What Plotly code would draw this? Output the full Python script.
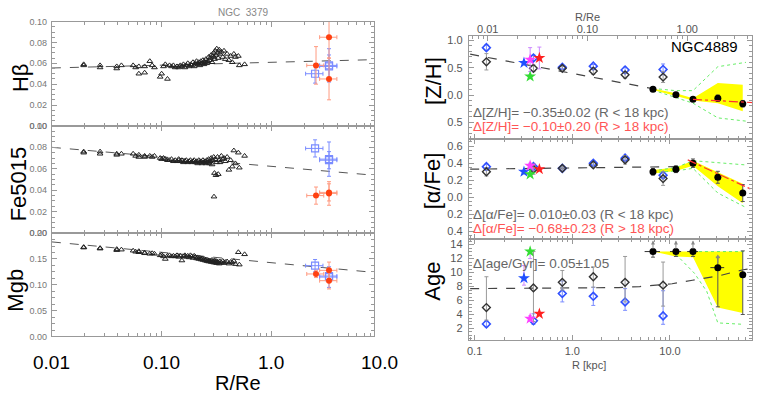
import math
import plotly.graph_objects as go

W, H = 761, 399

# ---------------- NGC 3379 : long-slit indices vs R/Re ----------------
slit_r = [0.0195, 0.0195, 0.0275, 0.0275, 0.039, 0.043, 0.039, 0.055, 0.058, 0.062,
          0.062, 0.070, 0.070, 0.078, 0.082, 0.086, 0.097, 0.100, 0.104, 0.108,
          0.113, 0.118, 0.123, 0.128, 0.133, 0.138, 0.143, 0.148, 0.153, 0.158,
          0.163, 0.168, 0.173, 0.178, 0.183, 0.188, 0.193, 0.198, 0.203, 0.208,
          0.213, 0.218, 0.223, 0.228, 0.233, 0.238, 0.243, 0.248, 0.253, 0.258,
          0.263, 0.268, 0.273, 0.278, 0.283, 0.288, 0.293, 0.298, 0.303, 0.300,
          0.308, 0.313, 0.318, 0.323, 0.328, 0.335, 0.340, 0.350, 0.360, 0.370,
          0.380, 0.395, 0.410, 0.425, 0.440, 0.455, 0.470, 0.500, 0.570, 0.510]
slit_hb = [0.059, 0.058, 0.058, 0.056, 0.057, 0.058, 0.055, 0.058, 0.056, 0.050,
           0.057, 0.051, 0.057, 0.062, 0.058, 0.056, 0.047, 0.050, 0.057, 0.059,
           0.045, 0.058, 0.057, 0.058, 0.056, 0.057, 0.056, 0.058, 0.057, 0.059,
           0.056, 0.058, 0.060, 0.057, 0.059, 0.058, 0.061, 0.057, 0.060, 0.062,
           0.059, 0.061, 0.058, 0.062, 0.060, 0.063, 0.059, 0.061, 0.064, 0.060,
           0.062, 0.066, 0.063, 0.065, 0.068, 0.061, 0.067, 0.070, 0.064, 0.066,
           0.072, 0.068, 0.074, 0.070, 0.065, 0.073, 0.069, 0.071, 0.066, 0.072,
           0.064, 0.069, 0.063, 0.067, 0.061, 0.069, 0.066, 0.067, 0.059, 0.058]
slit_fe = [0.075, 0.076, 0.076, 0.074, 0.074, 0.074, 0.073, 0.074, 0.072, 0.071,
           0.073, 0.072, 0.071, 0.072, 0.071, 0.072, 0.070, 0.069, 0.070, 0.069,
           0.068, 0.068, 0.069, 0.067, 0.068, 0.067, 0.069, 0.067, 0.068, 0.066,
           0.067, 0.068, 0.066, 0.067, 0.068, 0.066, 0.067, 0.068, 0.066, 0.067,
           0.065, 0.068, 0.066, 0.067, 0.065, 0.068, 0.066, 0.067, 0.065, 0.068,
           0.066, 0.069, 0.065, 0.067, 0.070, 0.064, 0.068, 0.071, 0.056, 0.034,
           0.069, 0.054, 0.066, 0.071, 0.055, 0.068, 0.066, 0.072, 0.069, 0.070,
           0.067, 0.071, 0.059, 0.068, 0.062, 0.077, 0.065, 0.075, 0.072, 0.061]
slit_mgb = [0.173, 0.172, 0.171, 0.170, 0.169, 0.168, 0.167, 0.166, 0.164, 0.165,
            0.163, 0.161, 0.162, 0.160, 0.161, 0.160, 0.157, 0.158, 0.155, 0.150,
            0.156, 0.157, 0.155, 0.156, 0.155, 0.157, 0.154, 0.156, 0.147, 0.155,
            0.157, 0.154, 0.156, 0.153, 0.157, 0.155, 0.152, 0.156, 0.154, 0.151,
            0.153, 0.150, 0.152, 0.149, 0.151, 0.148, 0.150, 0.147, 0.149, 0.146,
            0.148, 0.145, 0.147, 0.146, 0.144, 0.148, 0.145, 0.143, 0.147, 0.145,
            0.143, 0.146, 0.142, 0.145, 0.143, 0.141, 0.145, 0.143, 0.146, 0.142,
            0.144, 0.145, 0.141, 0.144, 0.143, 0.146, 0.140, 0.163, 0.159, 0.139]

# outer points (red filled / blue open)
red_r = [2.55, 3.35, 3.35]
red_rerr = [0.45, 0.6, 0.6]
blue_r = [2.5, 3.35, 3.35]
blue_rerr = [0.45, 0.6, 0.6]
red_hb, red_hb_err = [0.058, 0.085, 0.045], [0.018, 0.02, 0.02]
blue_hb, blue_hb_err = [0.050, 0.057, 0.058], [0.009, 0.011, 0.016]
red_fe, red_fe_err = [0.035, 0.037, 0.038], [0.008, 0.011, 0.008]
blue_fe, blue_fe_err = [0.079, 0.069, 0.068], [0.008, 0.016, 0.008]
red_mgb, red_mgb_err = [0.121, 0.128, 0.108], [0.007, 0.016, 0.016]
blue_mgb, blue_mgb_err = [0.137, 0.117, 0.115], [0.012, 0.012, 0.02]

# gradient fits (end points)
fit_r = [0.01, 8.6]
fit_hb = [0.0555, 0.0635]
fit_fe = [0.080, 0.054]
fit_mgb = [0.183, 0.124]

# ---------------- NGC 4889 : stellar populations vs R [kpc] ----------------
diam_r = [0.132, 0.40, 0.79, 1.64, 3.47, 8.5]
zh_k, zh_k_err = [0.61, 0.49, 0.49, 0.44, 0.37, 0.33], [0.15, 0.06, 0.04, 0.06, 0.06, 0.10]
zh_b, zh_b_err = [0.87, 0.68, 0.51, 0.53, 0.46, 0.47], [0.05, 0.05, 0.03, 0.03, 0.05, 0.10]
af_k, af_k_err = [0.30, 0.33, 0.34, 0.38, 0.44, 0.22], [0.05, 0.06, 0.02, 0.03, 0.05, 0.08]
af_b, af_b_err = [0.36, 0.36, 0.34, 0.40, 0.46, 0.26], [0.03, 0.03, 0.02, 0.02, 0.03, 0.03]
age_k = [5.0, 7.8, 8.6, 9.4, 8.6, 8.2]
age_k_up = [4.4, 5.2, 1.7, 1.4, 3.7, 3.3]
age_k_dn = [1.8, 4.8, 1.1, 1.5, 2.8, 3.0]
age_b = [2.65, 3.1, 7.0, 6.6, 5.8, 3.8]
age_b_up = [0.4, 1.0, 1.8, 1.3, 1.9, 3.6]
age_b_dn = [0.4, 0.5, 1.2, 1.3, 1.2, 1.2]

outer_r = [6.7, 11.5, 17.2, 30.9, 55.6]
zh_o, zh_o_err = [0.105, 0.005, -0.08, -0.06, -0.16], [0.04, 0.02, 0.03, 0.06, 0.06]
af_o, af_o_err = [0.30, 0.33, 0.40, 0.235, 0.05], [0.04, 0.04, 0.05, 0.07, 0.10]
age_o = [13.0, 13.0, 13.0, 10.7, 9.7]
age_o_up = [0.0, 0.0, 0.0, 1.5, 3.4]
age_o_dn = [0.8, 0.7, 0.7, 5.6, 5.7]
age_o_rerr = [1.2, 1.5, 2.2, 5.0, 0.0]

# literature stars: blue, magenta, green, red
star_r = [0.32, 0.37, 0.37, 0.46]
star_col = ["#1f4fff", "#ff40ff", "#33dd33", "#ff2020"]
star_zh = [0.59, 0.65, 0.34, 0.68]
star_zh_err = [0.03, 0.22, 0.03, 0.2]
star_af = [0.30, 0.37, 0.27, 0.33]
star_af_err = [0.02, 0.03, 0.02, 0.02]
star_age = [9.2, 3.4, 13.0, 4.1]
star_age_up = [1.8, 0.4, 0.0, 0.0]
star_age_dn = [1.0, 0.4, 1.0, 0.0]

# inner gradient fits (dashed) and outer fits (dash-dot)
zh_fit_r, zh_fit = [0.09, 7.0], [0.75, 0.11]
af_fit_r, af_fit = [0.09, 12.0], [0.33, 0.36]
age_fit_r = [0.09, 1.0, 3.0, 4.9, 10.5, 17.0, 31.0, 56.0, 70.0]
age_fit = [7.7, 7.75, 7.85, 8.0, 8.4, 8.9, 9.5, 10.4, 10.6]
zh_out_r, zh_out = [17.2, 72.0], [-0.08, -0.14]
af_out_r, af_out = [15.2, 72.0], [0.44, 0.08]

# yellow uncertainty envelopes (upper edge left->right, lower edge right->left)
band_r = [6.7, 11.5, 17.2, 30.9, 55.6, 55.6, 30.9, 17.2, 11.5, 6.7]
zh_band = [0.12, 0.03, -0.06, 0.22, 0.19, -0.30, -0.15, -0.10, -0.02, 0.09]
af_band = [0.32, 0.35, 0.43, 0.30, 0.16, -0.07, 0.13, 0.37, 0.31, 0.28]
age_band = [13.0, 13.0, 13.0, 13.0, 13.0, 4.2, 5.0, 12.2, 12.3, 13.0]

# green dotted envelopes
zh_gu_r, zh_gu = [6.7, 11.5, 17.2, 30.9, 60.0], [0.12, 0.08, 0.08, 0.52, 0.60]
zh_gl_r, zh_gl = [6.7, 11.5, 17.2, 30.9, 60.0], [0.09, -0.04, -0.15, -0.42, -0.48]
af_gu_r, af_gu = [6.7, 11.5, 17.2, 30.9, 60.0], [0.31, 0.35, 0.43, 0.41, 0.38]
af_gl_r, af_gl = [6.7, 11.5, 17.2, 30.9, 60.0], [0.29, 0.31, 0.34, 0.05, -0.12]
age_gu_r, age_gu = [17.2, 60.0], [13.0, 13.0]
age_gl_r = [11.5, 13.6, 17.8, 23.8, 28.7, 30.9, 55.6]
age_gl = [12.6, 11.6, 9.9, 7.3, 4.0, 2.8, 2.6]

RED = "#ff4010"
RED_L = "#ff9a80"
BLUE_L = "#7a8cff"
BLUE = "#3050ff"

fig = go.Figure()


def add(tr, xa, ya):
    tr.update(xaxis=xa, yaxis=ya, showlegend=False, hoverinfo="skip")
    fig.add_trace(tr)


# ---- left column ----
left = [("x", "y", slit_hb, fit_hb, red_hb, red_hb_err, blue_hb, blue_hb_err),
        ("x2", "y2", slit_fe, fit_fe, red_fe, red_fe_err, blue_fe, blue_fe_err),
        ("x3", "y3", slit_mgb, fit_mgb, red_mgb, red_mgb_err, blue_mgb, blue_mgb_err)]
for xa, ya, vals, fit, rv, re_, bv, be in left:
    add(go.Scatter(x=fit_r, y=fit, mode="lines", line=dict(color="#555", width=1, dash="dash")), xa, ya)
    add(go.Scatter(x=slit_r, y=vals, mode="markers",
                   marker=dict(symbol="triangle-up-open", size=5, color="#222", line=dict(width=1))), xa, ya)
    add(go.Scatter(x=blue_r, y=bv, mode="markers",
                   marker=dict(symbol="square-open", size=7, color=BLUE_L, line=dict(width=1.2)),
                   error_y=dict(type="data", array=be, color=BLUE_L, thickness=1, width=2),
                   error_x=dict(type="data", array=blue_rerr, color=BLUE_L, thickness=1, width=2)), xa, ya)
    add(go.Scatter(x=red_r, y=rv, mode="markers",
                   marker=dict(symbol="circle", size=6, color=RED),
                   error_y=dict(type="data", array=re_, color=RED_L, thickness=1, width=2),
                   error_x=dict(type="data", array=red_rerr, color=RED_L, thickness=1, width=2)), xa, ya)

# ---- right column ----
right = [("x4", "y4", zh_band, zh_gu_r, zh_gu, zh_gl_r, zh_gl, zh_fit_r, zh_fit,
          zh_k, zh_k_err, zh_k_err, zh_b, zh_b_err, zh_b_err, zh_o, zh_o_err, zh_o_err,
          star_zh, star_zh_err, star_zh_err),
         ("x5", "y5", af_band, af_gu_r, af_gu, af_gl_r, af_gl, af_fit_r, af_fit,
          af_k, af_k_err, af_k_err, af_b, af_b_err, af_b_err, af_o, af_o_err, af_o_err,
          star_af, star_af_err, star_af_err),
         ("x6", "y6", age_band, age_gu_r, age_gu, age_gl_r, age_gl, age_fit_r, age_fit,
          age_k, age_k_up, age_k_dn, age_b, age_b_up, age_b_dn, age_o, age_o_up, age_o_dn,
          star_age, star_age_up, star_age_dn)]
for (xa, ya, band, gur, gu, glr, gl, fr, fv, kv, kup, kdn, bv, bup, bdn,
     ov, oup, odn, sv, sup, sdn) in right:
    add(go.Scatter(x=band_r, y=band, mode="lines", fill="toself", fillcolor="#ffff00",
                   line=dict(width=0, color="#ffff00")), xa, ya)
    add(go.Scatter(x=gur, y=gu, mode="lines", line=dict(color="#66ee66", width=1, dash="dot")), xa, ya)
    add(go.Scatter(x=glr, y=gl, mode="lines", line=dict(color="#66ee66", width=1, dash="dot")), xa, ya)
    add(go.Scatter(x=fr, y=fv, mode="lines", line=dict(color="#444", width=1.2, dash="dash")), xa, ya)
    ex = dict(type="data", array=age_o_rerr, color="#333", thickness=1, width=0) if xa == "x6" else None
    add(go.Scatter(x=diam_r, y=bv, mode="markers",
                   marker=dict(symbol="diamond-open", size=6, color=BLUE, line=dict(width=1.6)),
                   error_y=dict(type="data", array=bup, arrayminus=bdn, color=BLUE_L, thickness=1, width=2)), xa, ya)
    add(go.Scatter(x=diam_r, y=kv, mode="markers",
                   marker=dict(symbol="diamond-open", size=6, color="#333", line=dict(width=1.4)),
                   error_y=dict(type="data", array=kup, arrayminus=kdn, color="#999", thickness=1, width=2)), xa, ya)
    add(go.Scatter(x=outer_r, y=ov, mode="markers",
                   marker=dict(symbol="circle", size=7, color="#000"),
                   error_y=dict(type="data", array=oup, arrayminus=odn, color="#555", thickness=1, width=2),
                   error_x=ex), xa, ya)
    add(go.Scatter(x=star_r, y=sv, mode="markers",
                   marker=dict(symbol="star", size=9, color=star_col, line=dict(width=0)),
                   error_y=dict(type="data", array=sup, arrayminus=sdn, color="#cc88ff", thickness=1, width=2)), xa, ya)
    if xa != "x6":
        orr = zh_out_r if xa == "x4" else af_out_r
        ovv = zh_out if xa == "x4" else af_out
        add(go.Scatter(x=orr, y=ovv, mode="lines", line=dict(color="#ff3030", width=1.2, dash="dashdot")), xa, ya)

# invisible trace so the top R/Re axis is drawn
add(go.Scatter(x=[0.1], y=[0.0], mode="markers", marker=dict(opacity=0)), "x7", "y4")


def frame(**kw):
    d = dict(showline=True, linecolor="#999", linewidth=1, mirror="ticks", ticks="inside",
             ticklen=5, tickcolor="#999", tickwidth=1, showgrid=False, zeroline=False)
    d.update(kw)
    return d


minor_log = [m * 10 ** e for e in (-3, -2, -1, 0, 1, 2) for m in range(2, 10)]

LX = [50 / W, 373 / W]
RX = [468 / W, 752 / W]


def ydom(top, bot):
    return [1 - bot / H, 1 - top / H]


lfont = dict(family="Liberation Sans", size=9, color="#777")
rfont = dict(family="Liberation Sans", size=11, color="#555")

layout = dict(width=W, height=H, margin=dict(l=0, r=0, t=0, b=0),
              paper_bgcolor="white", plot_bgcolor="white", showlegend=False)

for i, (xa, ya, top, bot, yr, yt) in enumerate([
        ("xaxis", "yaxis", 17, 124, [0, 0.1], [0, 0.02, 0.04, 0.06, 0.08, 0.10]),
        ("xaxis2", "yaxis2", 124, 234, [0, 0.1], [0, 0.02, 0.04, 0.06, 0.08, 0.10]),
        ("xaxis3", "yaxis3", 234, 340, [0, 0.2], [0, 0.05, 0.10, 0.15, 0.20])]):
    n = "" if i == 0 else str(i + 1)
    layout[xa] = frame(type="log", range=[-2, 0.935], domain=LX, anchor="y" + n,
                       tickvals=[0.01, 0.1, 1, 10], showticklabels=False,
                       minor=dict(ticks="inside", ticklen=3, tickcolor="#999", tickvals=minor_log))
    layout[ya] = frame(range=yr, domain=ydom(top, bot), anchor="x" + n, tickvals=yt,
                       tickformat=".2f", tickfont=lfont, ticklabelstandoff=2,
                       minor=dict(ticks="inside", ticklen=3, tickcolor="#999",
                                  dtick=(yt[1] - yt[0]) / 4))

right_y = [("yaxis4", 32, 137, [-0.80, 1.08], [-0.5, 0, 0.5, 1.0], ["0.5", "0.0", "0.5", "1.0"], 0.1),
           ("yaxis5", 137, 240, [-0.49, 0.69], [-0.4, -0.2, 0, 0.2, 0.4, 0.6],
            ["0.4", "0.2", "0.0", "0.2", "0.4", "0.6"], 0.05),
           ("yaxis6", 240, 344, [0.3, 14.8], [2, 4, 6, 8, 10, 12, 14],
            ["2", "4", "6", "8", "10", "12", "14"], 0.5)]
for j, (ya, top, bot, yr, tv, tt, mdt) in enumerate(right_y):
    n = str(j + 4)
    layout["xaxis" + n] = frame(type="log", range=[-1.06, 1.84], domain=RX, anchor="y" + n,
                                tickvals=[0.1, 1, 10], ticktext=["0.1", "1.0", "10.0"],
                                showticklabels=(n == "6"), tickfont=rfont,
                                mirror=True if n == "4" else "ticks",
                                minor=dict(ticks="inside", ticklen=3, tickcolor="#999", tickvals=minor_log))
    layout[ya] = frame(range=yr, domain=ydom(top, bot), anchor="x" + n, tickvals=tv, ticktext=tt,
                       tickfont=rfont, ticklabelstandoff=3,
                       minor=dict(ticks="inside", ticklen=3, tickcolor="#999", dtick=mdt))

layout["xaxis7"] = dict(type="log", overlaying="x4", side="top", anchor="y4",
                        range=[-2.19, 0.65], tickvals=[0.01, 0.1, 1],
                        ticktext=["0.01", "0.10", "1.00"], ticks="inside", ticklen=5,
                        tickcolor="#999", showline=False, showgrid=False, zeroline=False,
                        tickfont=rfont,
                        minor=dict(ticks="inside", ticklen=3, tickcolor="#999", tickvals=minor_log))
fig.update_layout(**layout)


def px(x):
    return x / W


def py(y):
    return 1 - y / H


ann = []
big = dict(family="Liberation Sans", size=22, color="#000")
for txt, x, y in [("Hβ", 18, 74), ("Fe5015", 16, 183), ("Mgb", 14, 292),
                  ("[Z/H]", 432, 78), ("[α/Fe]", 432, 180), ("Age", 432, 283)]:
    ann.append(dict(text=txt, x=px(x), y=py(y), xref="paper", yref="paper", showarrow=False,
                    textangle=-90, font=big, xanchor="center", yanchor="middle"))

# bottom-left tick labels (10.0 sits just beyond the frame)
for lab, lv in [("0.01", -2), ("0.10", -1), ("1.0", 0)]:
    ann.append(dict(text=lab, x=lv, xref="x3", y=py(367), yref="paper", showarrow=False,
                    font=dict(family="Liberation Sans", size=19, color="#000"),
                    xanchor="center", yanchor="middle"))
ann.append(dict(text="10.0", x=px(378), y=py(367), xref="paper", yref="paper", showarrow=False,
                font=dict(family="Liberation Sans", size=19, color="#000"),
                xanchor="center", yanchor="middle"))
ann.append(dict(text="R/Re", x=px(212), y=py(388), xref="paper", yref="paper", showarrow=False,
                font=dict(family="Liberation Sans", size=20, color="#000"), yanchor="middle"))
ann.append(dict(text="NGC  3379", x=px(215), y=py(8), xref="paper", yref="paper", showarrow=False,
                font=dict(family="Liberation Sans", size=10, color="#888"), yanchor="middle"))
ann.append(dict(text="R/Re", x=px(602), y=py(12), xref="paper", yref="paper", showarrow=False,
                font=rfont, yanchor="middle"))
ann.append(dict(text="R [kpc]", x=px(608), y=py(369), xref="paper", yref="paper", showarrow=False,
                font=rfont, yanchor="middle"))
ann.append(dict(text="NGC4889", x=px(740), y=py(43), xref="paper", yref="paper", showarrow=False,
                font=dict(family="Liberation Sans", size=15, color="#000"), xanchor="right",
                yanchor="middle"))

small = dict(family="Liberation Sans", size=13.5)
for txt, y, col in [("Δ[Z/H]= −0.35±0.02 (R < 18 kpc)", 110, "#666"),
                    ("Δ[Z/H]= −0.10±0.20 (R > 18 kpc)", 125, "#ff5555"),
                    ("Δ[α/Fe]= 0.010±0.03 (R < 18 kpc)", 215, "#666"),
                    ("Δ[α/Fe]= −0.68±0.23 (R > 18 kpc)", 229, "#ff5555"),
                    ("Δ[age/Gyr]= 0.05±1.05", 265, "#666")]:
    ann.append(dict(text=txt, x=px(470), y=py(y), xref="paper", yref="paper", showarrow=False,
                    font=dict(color=col, **small), xanchor="left", yanchor="middle"))

# lower-limit arrows on the oldest outer points
for r, a in zip(outer_r, [14.6, 14.6, 14.6, 12.6]):
    ann.append(dict(x=math.log10(r), y=a, xref="x6", yref="y6", ax=0, ay=10, text="",
                    showarrow=True, arrowhead=2, arrowsize=0.8, arrowwidth=1, arrowcolor="#888"))

fig.update_layout(annotations=ann)
fig.write_html("out.html", config={"displayModeBar": False},
               post_script="document.body.style.margin='0px';")
